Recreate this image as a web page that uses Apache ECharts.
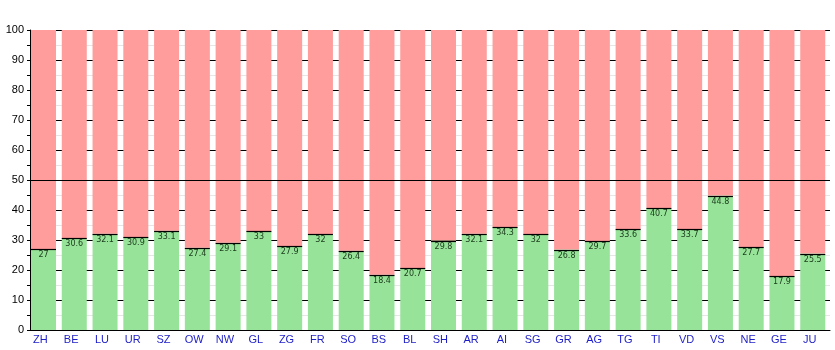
<!DOCTYPE html>
<html>
<head>
<meta charset="utf-8">
<script src="https://cdn.jsdelivr.net/npm/echarts@6/dist/echarts.min.js"></script>
<style>
  html, body { margin: 0; padding: 0; background: #ffffff; }
  #chart { width: 835px; height: 350px; }
</style>
</head>
<body>
<div id="chart"></div>
<script>
// Canton codes along the x axis
const cantons = ['ZH','BE','LU','UR','SZ','OW','NW','GL','ZG','FR','SO','BS','BL','SH','AR','AI','SG','GR','AG','TG','TI','VD','VS','NE','GE','JU'];
// Yes share (percent) per canton
const yesShare = [27, 30.6, 32.1, 30.9, 33.1, 27.4, 29.1, 33, 27.9, 32, 26.4, 18.4, 20.7, 29.8, 32.1, 34.3, 32, 26.8, 29.7, 33.6, 40.7, 33.7, 44.8, 27.7, 17.9, 25.5];
// No share fills the rest up to 100
const noShare = yesShare.map(v => +(100 - v).toFixed(1));
// Majority threshold line
const threshold = 50;

const chart = echarts.init(document.getElementById('chart'), null, { renderer: 'canvas' });

// Bars sit toward the left of each slot: an empty companion stack
// takes the right-hand sliver, so the visible bar shifts left.
const BAR_W = 25;
const BAR_GAP = -0.85;
const SHIFT = -(BAR_W * (1 + BAR_GAP)) / 2;

chart.setOption({
  animation: false,
  backgroundColor: '#ffffff',
  grid: { left: 30, right: 5, top: 30, bottom: 20 },
  xAxis: {
    type: 'category',
    data: cantons,
    axisLine: { show: true, lineStyle: { color: '#000', width: 1 } },
    axisTick: { show: false },
    axisLabel: {
      color: '#1c1cc8',
      fontSize: 11,
      fontFamily: 'Liberation Sans, Arial, sans-serif',
      margin: 4,
      padding: [0, 10, 0, 0]
    },
    splitLine: { show: false }
  },
  yAxis: {
    type: 'value',
    min: 0,
    max: 100,
    interval: 10,
    axisLine: { show: true, lineStyle: { color: '#000', width: 1 } },
    axisTick: { show: true, length: 3, lineStyle: { color: '#000' } },
    minorTick: { show: true, splitNumber: 2, length: 3, lineStyle: { color: '#000' } },
    axisLabel: { color: '#000', fontSize: 11, fontFamily: 'Liberation Sans, Arial, sans-serif', margin: 6 },
    splitLine: { show: true, lineStyle: { color: '#000', width: 1 } },
    minorSplitLine: { show: true, lineStyle: { color: '#e6e6e6', width: 1 } }
  },
  series: [
    {
      name: 'yes',
      type: 'bar',
      stack: 'total',
      data: yesShare,
      barWidth: BAR_W,
      barGap: (BAR_GAP * 100) + '%',
      itemStyle: { color: '#98e39a' },
      label: {
        show: true,
        position: 'insideTop',
        distance: 2,
        color: '#1a3a1a',
        fontSize: 8,
        fontFamily: 'DejaVu Sans, sans-serif'
      },
      z: 2
    },
    {
      name: 'no',
      type: 'bar',
      stack: 'total',
      data: noShare,
      barWidth: BAR_W,
      barGap: (BAR_GAP * 100) + '%',
      itemStyle: { color: '#ff9c9c' },
      label: { show: false },
      z: 2,
      markLine: {
        silent: true,
        symbol: 'none',
        label: { show: false },
        lineStyle: { color: '#000', width: 1, type: 'solid' },
        data: [{ yAxis: threshold }],
        z: 10
      }
    },
    {
      name: 'spacer',
      type: 'bar',
      stack: 'spacer',
      data: cantons.map(() => null),
      barWidth: BAR_W,
      barGap: (BAR_GAP * 100) + '%',
      itemStyle: { opacity: 0 }
    },
    {
      // black edge along the top of each yes bar
      name: 'yesEdge',
      type: 'custom',
      data: yesShare.map((v, i) => [i, v]),
      z: 5,
      renderItem: function (params, api) {
        const p = api.coord([api.value(0), api.value(1)]);
        const cx = p[0] + SHIFT;
        const y = Math.round(p[1]) + 0.5;
        return {
          type: 'line',
          shape: { x1: cx - BAR_W / 2, y1: y, x2: cx + BAR_W / 2, y2: y },
          style: { stroke: '#000', lineWidth: 1.2 }
        };
      }
    }
  ]
});
</script>
</body>
</html>
